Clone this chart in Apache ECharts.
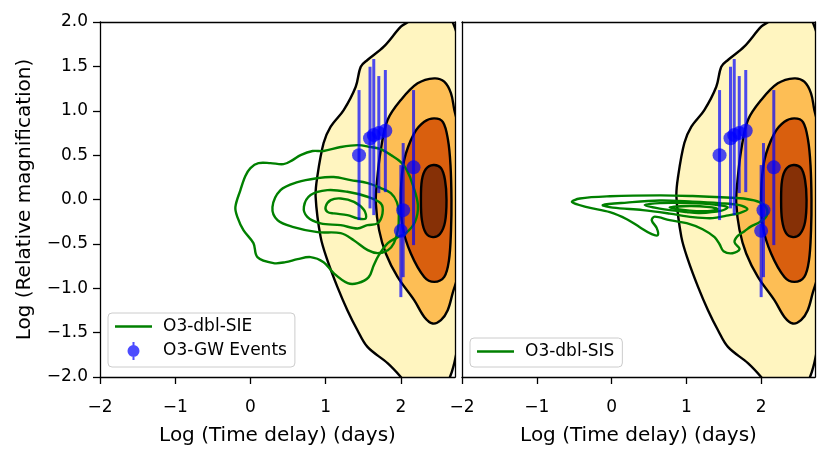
<!DOCTYPE html>
<html>
<head>
<meta charset="utf-8">
<script src="https://cdn.jsdelivr.net/npm/echarts@6/dist/echarts.min.js"></script>
<style>
html,body{margin:0;padding:0;background:#fff;}
#chart{width:831px;height:461px;}
</style>
</head>
<body>
<div id="chart"></div>
<script>
// ---------- DATA ----------
const xTicks = [-2, -1, 0, 1, 2];
const xLabel = 'Log (Time delay) (days)';
const yLabel = 'Log (Relative magnification)';

// filled density contours (same in both panels): [log time delay, log magnification]
const outerFill = [[2.40,2.25],[2.093,2.0],[2.0,1.947],[1.773,1.722],[1.556,1.572],[1.467,1.496],[1.40,1.271],[1.24,1.008],[1.067,0.820],[0.973,0.636],[0.889,0.256],[0.867,0.030],[0.933,-0.421],[1.023,-0.683],[1.156,-0.984],[1.289,-1.247],[1.423,-1.473],[1.556,-1.661],[1.823,-1.844],[2.0,-2.0],[2.2,-2.21],[2.45,-2.28],[2.653,-2.0],[2.747,-1.698],[2.867,-1.134],[2.933,0.0],[2.867,1.121],[2.747,1.853],[2.69,2.0],[2.6,2.2]];
const midFill = [[2.444,1.365],[2.223,1.309],[2.0,1.121],[1.823,0.895],[1.733,0.557],[1.68,0.181],[1.667,-0.041],[1.711,-0.345],[1.80,-0.608],[1.956,-0.872],[2.177,-1.134],[2.311,-1.323],[2.423,-1.397],[2.533,-1.36],[2.623,-1.247],[2.689,-1.055],[2.773,-0.796],[2.827,0.0],[2.773,0.782],[2.711,1.008],[2.667,1.196],[2.577,1.327]];
const innerFill = [[2.444,0.914],[2.311,0.876],[2.177,0.745],[2.044,0.444],[2.0,0.069],[2.023,-0.308],[2.133,-0.608],[2.311,-0.872],[2.444,-0.928],[2.577,-0.872],[2.64,-0.683],[2.667,-0.345],[2.673,0.0],[2.66,0.388],[2.627,0.67],[2.56,0.873]];
const coreFill = [[2.433,0.388],[2.533,0.354],[2.587,0.219],[2.607,-0.007],[2.587,-0.255],[2.52,-0.39],[2.427,-0.424],[2.333,-0.379],[2.28,-0.232],[2.267,-0.007],[2.28,0.219],[2.333,0.343]];

// O3-dbl-SIE contour loops (left panel)
const sieC1 = [[-0.2,-0.086],[-0.133,0.106],[-0.067,0.264],[0.0,0.354],[0.107,0.410],[0.267,0.410],[0.44,0.399],[0.56,0.444],[0.667,0.501],[0.827,0.546],[0.973,0.546],[1.2,0.591],[1.427,0.613],[1.6,0.591],[1.733,0.568],[1.867,0.501],[2.0,0.422],[2.08,0.331],[2.16,0.162],[2.227,-0.063],[2.187,-0.255],[2.067,-0.379],[1.96,-0.424],[1.827,-0.492],[1.707,-0.627],[1.64,-0.740],[1.573,-0.875],[1.427,-0.943],[1.293,-0.943],[1.107,-0.830],[0.973,-0.706],[0.8,-0.649],[0.627,-0.672],[0.467,-0.706],[0.307,-0.717],[0.093,-0.649],[0.04,-0.492],[-0.093,-0.345],[-0.173,-0.198]];
const sieC2 = [[0.293,-0.086],[0.4,0.106],[0.627,0.196],[0.893,0.241],[1.107,0.253],[1.333,0.219],[1.56,0.185],[1.733,0.129],[1.867,0.072],[1.947,-0.029],[1.973,-0.176],[1.96,-0.345],[1.907,-0.492],[1.827,-0.571],[1.693,-0.604],[1.56,-0.571],[1.373,-0.458],[1.2,-0.379],[0.893,-0.368],[0.573,-0.311],[0.36,-0.232]];
const sieC3 = [[0.711,-0.082],[0.8,0.050],[1.023,0.106],[1.289,0.087],[1.556,0.031],[1.733,-0.044],[1.756,-0.157],[1.689,-0.269],[1.556,-0.289],[1.423,-0.326],[1.2,-0.289],[0.933,-0.269],[0.756,-0.195]];
const sieC4 = [[1.0,-0.082],[1.067,-0.007],[1.2,0.012],[1.377,-0.026],[1.511,-0.119],[1.533,-0.213],[1.423,-0.213],[1.289,-0.176],[1.111,-0.157],[1.023,-0.139]];

// O3-dbl-SIS contour loops (right panel)
const sisC1 = [[-0.529,-0.029],[-0.423,0.011],[-0.023,0.036],[0.644,0.047],[1.084,0.039],[1.537,0.022],[1.804,0.006],[1.977,-0.029],[2.071,-0.097],[2.071,-0.187],[1.977,-0.255],[1.871,-0.300],[1.777,-0.357],[1.684,-0.413],[1.644,-0.481],[1.711,-0.560],[1.617,-0.605],[1.497,-0.583],[1.444,-0.504],[1.377,-0.425],[1.217,-0.335],[1.004,-0.267],[0.777,-0.233],[0.577,-0.193],[0.537,-0.233],[0.604,-0.323],[0.617,-0.402],[0.537,-0.391],[0.377,-0.312],[0.204,-0.222],[-0.023,-0.142],[-0.329,-0.086]];
const sisC2 = [[-0.116,-0.063],[0.204,-0.035],[0.644,-0.012],[1.084,-0.024],[1.444,-0.041],[1.711,-0.063],[1.817,-0.108],[1.711,-0.153],[1.537,-0.181],[1.351,-0.210],[1.084,-0.198],[0.777,-0.159],[0.417,-0.120],[0.017,-0.091]];
const sisC3 = [[0.444,-0.063],[0.644,-0.041],[1.044,-0.041],[1.377,-0.058],[1.551,-0.086],[1.471,-0.125],[1.177,-0.153],[1.004,-0.142],[0.644,-0.103]];
const sisC4 = [[0.777,-0.091],[1.044,-0.074],[1.311,-0.086],[1.417,-0.108],[1.284,-0.131],[1.044,-0.125]];

// O3 GW events with error bars
const gwX  = [1.444, 1.59, 1.64, 1.707, 1.794, 2.169, 2.031, 2.0];
const gwY  = [0.50, 0.69, 0.726, 0.749, 0.775, 0.362, -0.12, -0.353];
const gwLo = [-0.232, -0.10, -0.176, 0.072, 0.083, -0.514, -0.875, -1.10];
const gwHi = [1.233, 1.496, 1.583, 1.391, 1.459, 1.233, 0.636, 0.388];

// ---------- STYLE / BUILD ----------
const FONT = 'DejaVu Sans';
const fillColors = ['#fff5c0', '#fdbe55', '#d95f0e', '#863006'];
const GREEN = '#008000';
const BLUE = 'rgba(0,0,255,0.7)';
const XMAX = 2.72;
const minus = s => String(s).replace('-', '\u2212');

function clipGroup(params, children) {
  const cs = params.coordSys;
  return {type: 'group', clipPath: {type: 'rect', shape: {x: cs.x, y: cs.y, width: cs.width, height: cs.height}}, children: children};
}

function fillSeries(pts, color, gi) {
  return {
    type: 'custom', name: 'density', xAxisIndex: gi * 2, yAxisIndex: gi * 2, z: 1,
    data: pts, encode: {x: 0, y: 1}, silent: true,
    renderItem: function (params, api) {
      if (params.dataIndex !== 0) return null;
      const points = pts.map(p => api.coord(p));
      return clipGroup(params, [{type: 'polygon', shape: {points: points, smooth: 0.35},
        style: {fill: color, stroke: '#000', lineWidth: 2.4}}]);
    }
  };
}

function loopSeries(pts, name, gi) {
  return {
    type: 'custom', name: name, xAxisIndex: gi * 2, yAxisIndex: gi * 2, z: 3,
    data: pts, encode: {x: 0, y: 1}, itemStyle: {color: GREEN}, silent: true,
    renderItem: function (params, api) {
      if (params.dataIndex !== 0) return null;
      const points = pts.map(p => api.coord(p));
      return clipGroup(params, [{type: 'polygon', shape: {points: points, smooth: 0.35},
        style: {fill: 'none', stroke: GREEN, lineWidth: 2.4}}]);
    }
  };
}

function errSeries(gi) {
  return {
    type: 'custom', name: 'gwErr', xAxisIndex: gi * 2, yAxisIndex: gi * 2, z: 4, silent: true,
    data: gwX.map((x, i) => [x, gwY[i], gwLo[i], gwHi[i]]), encode: {x: 0, y: 1},
    renderItem: function (params, api) {
      const x = api.value(0);
      const p1 = api.coord([x, api.value(3)]);
      const p2 = api.coord([x, api.value(2)]);
      return {type: 'line', shape: {x1: p1[0], y1: p1[1], x2: p2[0], y2: p2[1]},
        style: {stroke: BLUE, lineWidth: 3}};
    }
  };
}

function markerSeries(gi) {
  return {
    type: 'scatter', name: 'O3-GW Events', xAxisIndex: gi * 2, yAxisIndex: gi * 2, z: 5,
    data: gwX.map((x, i) => [x, gwY[i]]), symbolSize: 14,
    itemStyle: {color: BLUE, opacity: 1}, silent: true
  };
}

const grids = [
  {left: 100, top: 22, width: 355, height: 355},
  {left: 462, top: 22, width: 353, height: 355}
];

const xAxes = [], yAxes = [];
[0, 1].forEach(gi => {
  xAxes.push({
    type: 'value', gridIndex: gi, position: 'bottom', min: -2, max: XMAX, interval: 1, z: 10,
    axisLine: {onZero: false, lineStyle: {color: '#000', width: 1.3}},
    axisTick: {length: 7, lineStyle: {color: '#000', width: 1.3}, customValues: xTicks},
    axisLabel: {customValues: xTicks, formatter: v => minus(v), fontFamily: FONT, fontSize: 17, color: '#000', margin: 22},
    splitLine: {show: false},
    name: xLabel, nameLocation: 'middle', nameGap: 49,
    nameTextStyle: {fontFamily: FONT, fontSize: 20, color: '#000'}
  });
  xAxes.push({
    type: 'value', gridIndex: gi, position: 'top', min: -2, max: XMAX, z: 10,
    axisLine: {onZero: false, lineStyle: {color: '#000', width: 1.3}},
    axisTick: {show: false}, axisLabel: {show: false}, splitLine: {show: false}
  });
  yAxes.push({
    type: 'value', gridIndex: gi, position: 'left', min: -2, max: 2, interval: 0.5, z: 10,
    axisLine: {onZero: false, lineStyle: {color: '#000', width: 1.3}},
    axisTick: {show: gi === 0, length: 7, lineStyle: {color: '#000', width: 1.3}},
    axisLabel: {show: gi === 0, formatter: v => minus(v.toFixed(1)), fontFamily: FONT, fontSize: 17, color: '#000', margin: 12},
    splitLine: {show: false},
    name: gi === 0 ? yLabel : '', nameLocation: 'middle', nameGap: 65, nameRotate: 90,
    nameTextStyle: {fontFamily: FONT, fontSize: 20, color: '#000'}
  });
  yAxes.push({
    type: 'value', gridIndex: gi, position: 'right', min: -2, max: 2, z: 10,
    axisLine: {onZero: false, lineStyle: {color: '#000', width: 1.3}},
    axisTick: {show: false}, axisLabel: {show: false}, splitLine: {show: false}
  });
});

const series = [];
[0, 1].forEach(gi => {
  [outerFill, midFill, innerFill, coreFill].forEach((pts, k) => series.push(fillSeries(pts, fillColors[k], gi)));
});
[sieC1, sieC2, sieC3, sieC4].forEach(p => series.push(loopSeries(p, 'O3-dbl-SIE', 0)));
[sisC1, sisC2, sisC3, sisC4].forEach(p => series.push(loopSeries(p, 'O3-dbl-SIS', 1)));
[0, 1].forEach(gi => { series.push(errSeries(gi)); series.push(markerSeries(gi)); });

const LINE_ICON = 'path://M0,0h40v2.6h-40z';
const EB_ICON = 'path://M5,0h2v18h-2z M0,9a6,6 0 1,1 12,0a6,6 0 1,1 -12,0z';
const legendBase = {
  orient: 'vertical', itemWidth: 37, itemHeight: 18, itemGap: 7,
  padding: [5, 8, 7, 7], backgroundColor: 'rgba(255,255,255,0.8)',
  borderColor: '#cccccc', borderWidth: 1, borderRadius: 4, selectedMode: false,
  textStyle: {fontFamily: FONT, fontSize: 17, color: '#000', padding: [0, 0, 0, 6]}
};

const option = {
  animation: false,
  backgroundColor: '#fff',
  textStyle: {fontFamily: FONT},
  grid: grids,
  xAxis: xAxes,
  yAxis: yAxes,
  legend: [
    Object.assign({}, legendBase, {left: 108, top: 313,
      data: [{name: 'O3-dbl-SIE', icon: LINE_ICON}, {name: 'O3-GW Events', icon: EB_ICON}]}),
    Object.assign({}, legendBase, {left: 470, top: 338,
      data: [{name: 'O3-dbl-SIS', icon: LINE_ICON}]})
  ],
  series: series
};

const chart = echarts.init(document.getElementById('chart'), null, {renderer: 'canvas'});
chart.setOption(option);
</script>
</body>
</html>
